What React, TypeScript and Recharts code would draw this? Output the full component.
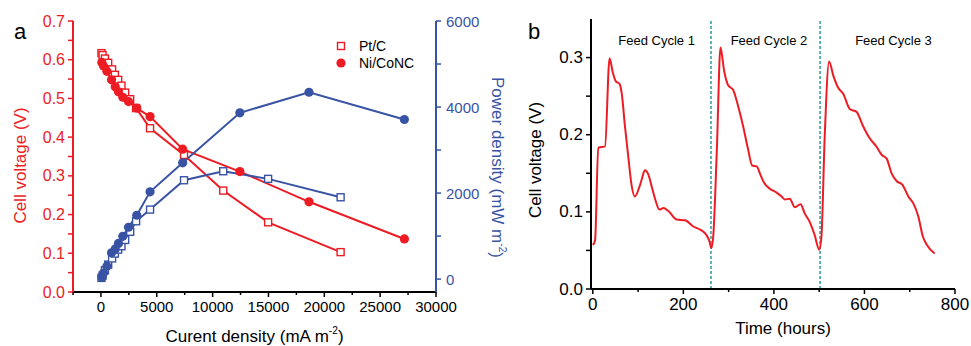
import React from 'react';
import { LineChart, Line, XAxis, YAxis, Label, ReferenceLine, Legend } from 'recharts';

const RED = '#ED1C24';
const BLUE = '#3953A4';
const TEAL = '#2E9A9A';
const FONT = '"Liberation Sans", Arial, Helvetica, sans-serif';

// ---------- Panel a data ----------
const ptcCurrent = [50, 150, 360, 650, 1000, 1250, 1545, 1840, 2170, 2620, 3150, 4400, 7440, 10950, 14970, 21460];
const ptcVoltage = [0.617, 0.612, 0.603, 0.592, 0.575, 0.561, 0.548, 0.533, 0.515, 0.498, 0.475, 0.423, 0.354, 0.262, 0.18, 0.103];
const ptcPower = [28, 81, 205, 337, 480, 593, 686, 763, 910, 1100, 1344, 1616, 2298, 2507, 2330, 1902];

const nicCurrent = [80, 235, 535, 950, 1280, 1570, 1960, 2470, 3210, 4400, 7320, 12440, 18630, 27170];
const nicVoltage = [0.593, 0.584, 0.57, 0.548, 0.53, 0.517, 0.503, 0.492, 0.475, 0.453, 0.369, 0.311, 0.233, 0.137];
const nicPower = [50, 140, 300, 610, 700, 830, 995, 1205, 1484, 2028, 2702, 3865, 4344, 3710];

const voltageTicks = [0, 0.05, 0.1, 0.15, 0.2, 0.25, 0.3, 0.35, 0.4, 0.45, 0.5, 0.55, 0.6, 0.65, 0.7];
const voltageMajor = [0, 0.1, 0.2, 0.3, 0.4, 0.5, 0.6, 0.7];
const powerTicks = [0, 1000, 2000, 3000, 4000, 5000, 6000];
const powerMajor = [0, 2000, 4000, 6000];
const currentTicks = [-2500, 0, 2500, 5000, 7500, 10000, 12500, 15000, 17500, 20000, 22500, 25000, 27500, 30000];
const currentMajor = [0, 5000, 10000, 15000, 20000, 25000, 30000];

const legendItems = [
  { label: 'Pt/C', shape: 'square' },
  { label: 'Ni/CoNC', shape: 'circle' },
];

// ---------- Panel b data ----------
const timeHours = [0, 5, 12, 27, 37, 44, 51, 59, 64, 71, 79, 85, 93, 101, 108, 115, 123, 130, 138, 147, 156, 167, 185, 204, 222, 240, 251, 257, 262, 266, 274, 282, 290, 299, 310, 321, 332, 343, 352, 362, 369, 378, 391, 406, 417, 424, 435, 446, 459, 468, 479, 490, 500, 505, 512, 522, 531, 542, 553, 568, 582, 597, 612, 626, 638, 649, 660, 671, 684, 697, 708, 719, 729, 738, 755];
const cellVoltage = [0.057, 0.063, 0.183, 0.185, 0.299, 0.281, 0.269, 0.266, 0.253, 0.211, 0.168, 0.137, 0.12, 0.129, 0.142, 0.154, 0.148, 0.133, 0.116, 0.103, 0.105, 0.101, 0.09, 0.089, 0.081, 0.076, 0.07, 0.063, 0.053, 0.068, 0.181, 0.313, 0.283, 0.264, 0.258, 0.237, 0.211, 0.181, 0.16, 0.159, 0.15, 0.138, 0.13, 0.125, 0.12, 0.116, 0.117, 0.106, 0.11, 0.098, 0.087, 0.07, 0.051, 0.068, 0.194, 0.295, 0.277, 0.261, 0.253, 0.233, 0.23, 0.211, 0.195, 0.185, 0.174, 0.169, 0.15, 0.14, 0.135, 0.12, 0.111, 0.094, 0.068, 0.057, 0.046];
const feedBoundaries = [261, 502];
const cycleLabels = ['Feed Cycle 1', 'Feed Cycle 2', 'Feed Cycle 3'];
const cycleCenters = [141, 389, 664];
const bVoltTicks = [0, 0.05, 0.1, 0.15, 0.2, 0.25, 0.3];
const bVoltMajor = [0, 0.1, 0.2, 0.3];
const bTimeTicks = [0, 100, 200, 300, 400, 500, 600, 700, 800];
const bTimeMajor = [0, 200, 400, 600, 800];

const ptcV = ptcCurrent.map((x, i) => ({ x, y: ptcVoltage[i] }));
const ptcP = ptcCurrent.map((x, i) => ({ x, y: ptcPower[i] }));
const nicV = nicCurrent.map((x, i) => ({ x, y: nicVoltage[i] }));
const nicP = nicCurrent.map((x, i) => ({ x, y: nicPower[i] }));
const bData = timeHours.map((t, i) => ({ t, v: cellVoltage[i] }));

const isIn = (arr: number[], v: number) => arr.some((m) => Math.abs(m - v) < 1e-9);

type TickOpts = {
  orient: 'left' | 'right' | 'bottom';
  major: number[];
  fmt: (v: number) => string;
  color: string;
  textColor?: string;
  fontSize: number;
  margin: number;
  len?: number;
  minorLen?: number;
  gap?: number;
};

const makeTick = (o: TickOpts) => (props: any) => {
  const { x, y, payload } = props;
  const v = payload.value;
  const major = isIn(o.major, v);
  const L = major ? (o.len ?? 5) : (o.minorLen ?? 3);
  const gap = o.gap ?? 3;
  const tc = o.textColor ?? o.color;
  if (o.orient === 'left') {
    const ax = x + o.margin;
    return (
      <g>
        <line x1={ax - L} x2={ax} y1={y} y2={y} stroke={o.color} strokeWidth={1.5} />
        {major && (
          <text x={ax - L - gap} y={y} textAnchor="end" dominantBaseline="central" fill={tc} fontSize={o.fontSize} fontFamily={FONT}>
            {o.fmt(v)}
          </text>
        )}
      </g>
    );
  }
  if (o.orient === 'right') {
    const ax = x - o.margin;
    return (
      <g>
        <line x1={ax} x2={ax + L} y1={y} y2={y} stroke={o.color} strokeWidth={1.5} />
        {major && (
          <text x={ax + L + gap} y={y} textAnchor="start" dominantBaseline="central" fill={tc} fontSize={o.fontSize} fontFamily={FONT}>
            {o.fmt(v)}
          </text>
        )}
      </g>
    );
  }
  const ay = y - o.margin;
  return (
    <g>
      <line x1={x} x2={x} y1={ay} y2={ay + L} stroke={o.color} strokeWidth={1.5} />
      {major && (
        <text x={x} y={ay + L + gap} textAnchor="middle" dominantBaseline="hanging" fill={tc} fontSize={o.fontSize} fontFamily={FONT}>
          {o.fmt(v)}
        </text>
      )}
    </g>
  );
};

const AxisLabel = (p: any) => {
  const { viewBox, text, sup, color, dx, dy, angle, fontSize, vertical } = p;
  const { x, y, width, height } = viewBox || {};
  let cx: number;
  let cy: number;
  if (vertical) {
    cx = x + dx;
    cy = y + height / 2 + dy;
  } else {
    cx = x + width / 2 + dx;
    cy = y + dy;
  }
  return (
    <text
      x={cx}
      y={cy}
      transform={angle ? `rotate(${angle} ${cx} ${cy})` : undefined}
      textAnchor="middle"
      dominantBaseline="central"
      fill={color}
      fontSize={fontSize}
      fontFamily={FONT}
    >
      {text}
      {sup && (
        <>
          <tspan dy={-6} fontSize={fontSize * 0.6}>{sup}</tspan>
          <tspan dy={6}>)</tspan>
        </>
      )}
    </text>
  );
};

const squareDot = (color: string) => (props: any) => {
  const { cx, cy, index } = props;
  if (cx == null || cy == null) return <g key={`s${index}`} />;
  return <rect key={`s${index}`} x={cx - 3.5} y={cy - 3.5} width={7} height={7} fill="#fff" stroke={color} strokeWidth={1.4} />;
};
const circleDot = (color: string) => (props: any) => {
  const { cx, cy, index } = props;
  if (cx == null || cy == null) return <g key={`c${index}`} />;
  return <circle key={`c${index}`} cx={cx} cy={cy} r={4.6} fill={color} stroke="none" />;
};

const renderLegend = () => (
  <div style={{ fontFamily: FONT, fontSize: 14, color: '#000' }}>
    {legendItems.map((it) => (
      <div key={it.label} style={{ display: 'flex', alignItems: 'center', height: 17 }}>
        <svg width={16} height={16} style={{ marginRight: 10 }}>
          {it.shape === 'square' ? (
            <rect x={4.5} y={4.5} width={7} height={7} fill="#fff" stroke={RED} strokeWidth={1.4} />
          ) : (
            <circle cx={8} cy={8} r={4.6} fill={RED} />
          )}
        </svg>
        <span>{it.label}</span>
      </div>
    ))}
  </div>
);

const PanelA = () => (
  <LineChart width={520} height={346} margin={{ top: 21, right: 0, bottom: 0, left: 5 }}>
    <XAxis
      xAxisId="b"
      dataKey="x"
      type="number"
      domain={[-2500, 30000]}
      ticks={currentTicks}
      interval={0}
      allowDataOverflow
      height={54}
      tickSize={0}
      tickMargin={0}
      axisLine={{ stroke: '#000', strokeWidth: 2 }}
      tickLine={false}
      tick={makeTick({ orient: 'bottom', major: currentMajor, fmt: (v) => String(v), color: '#000', fontSize: 15, margin: 0, gap: 4 })}
    >
      <Label content={(p: any) => <AxisLabel {...p} text="Curent density (mA m" sup="-2" color="#000" dx={0} dy={44} fontSize={17} />} />
    </XAxis>
    <XAxis
      xAxisId="t"
      orientation="top"
      dataKey="x"
      type="number"
      domain={[-2500, 30000]}
      height={0}
      tick={false}
      tickLine={false}
      axisLine={{ stroke: '#000', strokeWidth: 2 }}
    />
    <YAxis
      yAxisId="v"
      type="number"
      domain={[0, 0.7]}
      ticks={voltageTicks}
      interval={0}
      width={68}
      tickSize={0}
      tickMargin={0}
      tickLine={false}
      axisLine={{ stroke: RED, strokeWidth: 2 }}
      tick={makeTick({ orient: 'left', major: voltageMajor, fmt: (v) => v.toFixed(1), color: RED, fontSize: 16, margin: 0, len: 5, minorLen: 5, gap: 3 })}
    >
      <Label content={(p: any) => <AxisLabel {...p} vertical text="Cell voltage (V)" color={RED} dx={15} dy={9} angle={-90} fontSize={17} />} />
    </YAxis>
    <YAxis
      yAxisId="p"
      orientation="right"
      type="number"
      domain={[-300, 6000]}
      ticks={powerTicks}
      interval={0}
      width={84}
      tickSize={0}
      tickMargin={0}
      tickLine={false}
      axisLine={{ stroke: BLUE, strokeWidth: 2 }}
      tick={makeTick({ orient: 'right', major: powerMajor, fmt: (v) => String(v), color: BLUE, fontSize: 15, margin: 0, len: 5, minorLen: 5, gap: 5 })}
    >
      <Label content={(p: any) => <AxisLabel {...p} vertical text="Power density (mW m" sup="-2" color={BLUE} dx={61} dy={11} angle={90} fontSize={17} />} />
    </YAxis>
    <Legend
      layout="vertical"
      align="center"
      verticalAlign="middle"
      content={renderLegend}
      wrapperStyle={{ position: 'absolute', left: 333, top: 37, width: 'auto', height: 'auto' }}
    />
    <Line xAxisId="b" yAxisId="v" data={ptcV} dataKey="y" name="Pt/C" type="linear" stroke={RED} strokeWidth={2} dot={squareDot(RED)} isAnimationActive={false} />
    <Line xAxisId="b" yAxisId="v" data={nicV} dataKey="y" name="Ni/CoNC" type="linear" stroke={RED} strokeWidth={2} dot={circleDot(RED)} isAnimationActive={false} />
    <Line xAxisId="b" yAxisId="p" data={ptcP} dataKey="y" name="Pt/C power" type="linear" stroke={BLUE} strokeWidth={2} dot={squareDot(BLUE)} isAnimationActive={false} />
    <Line xAxisId="b" yAxisId="p" data={nicP} dataKey="y" name="Ni/CoNC power" type="linear" stroke={BLUE} strokeWidth={2} dot={circleDot(BLUE)} isAnimationActive={false} />
  </LineChart>
);

const PanelB = () => (
  <LineChart width={451} height={346} data={bData} margin={{ top: 19, right: 16, bottom: 0, left: 0 }}>
    <XAxis
      xAxisId="b"
      dataKey="t"
      type="number"
      domain={[-4, 800]}
      ticks={bTimeTicks}
      interval={0}
      height={57}
      tickSize={0}
      tickMargin={0}
      tickLine={false}
      axisLine={{ stroke: '#000', strokeWidth: 2 }}
      tick={makeTick({ orient: 'bottom', major: bTimeMajor, fmt: (v) => String(v), color: '#000', fontSize: 17, margin: 0, gap: 4 })}
    >
      <Label content={(p: any) => <AxisLabel {...p} text="Time (hours)" color="#000" dx={10} dy={39} fontSize={17} />} />
    </XAxis>
    <XAxis xAxisId="t" orientation="top" dataKey="t" type="number" domain={[-4, 800]} height={0} tick={false} tickLine={false} axisLine={{ stroke: '#000', strokeWidth: 2 }} />
    <YAxis
      yAxisId="l"
      type="number"
      domain={[0, 0.35]}
      ticks={bVoltTicks}
      interval={0}
      width={71}
      tickSize={0}
      tickMargin={0}
      tickLine={false}
      axisLine={{ stroke: '#000', strokeWidth: 2 }}
      tick={makeTick({ orient: 'left', major: bVoltMajor, fmt: (v) => v.toFixed(1), color: '#000', fontSize: 17, margin: 0, len: 5, minorLen: 5, gap: 3 })}
    >
      <Label content={(p: any) => <AxisLabel {...p} vertical text="Cell voltage (V)" color="#000" dx={15} dy={6} angle={-90} fontSize={17} />} />
    </YAxis>
    <YAxis yAxisId="r" orientation="right" type="number" domain={[0, 0.35]} width={0} tick={false} tickLine={false} axisLine={{ stroke: '#000', strokeWidth: 2 }} />
    {feedBoundaries.map((b) => (
      <ReferenceLine key={b} xAxisId="b" yAxisId="l" x={b} stroke={TEAL} strokeWidth={1.5} strokeDasharray="3 2" />
    ))}
    {cycleCenters.map((c, i) => (
      <ReferenceLine
        key={`c${i}`}
        xAxisId="b"
        yAxisId="l"
        x={c}
        stroke="none"
        label={{ value: cycleLabels[i], position: 'insideTop', offset: 17, fill: '#000', fontSize: 13, fontFamily: FONT }}
      />
    ))}
    <Line xAxisId="b" yAxisId="l" dataKey="v" type="monotone" stroke={RED} strokeWidth={2} dot={false} isAnimationActive={false} />
  </LineChart>
);

export default function App() {
  return (
    <div style={{ position: 'absolute', left: 0, top: 0, width: 971, height: 346, background: '#fff', fontFamily: FONT }}>
      <div style={{ position: 'absolute', left: 0, top: 0 }}>
        <PanelA />
      </div>
      <div style={{ position: 'absolute', left: 520, top: 0 }}>
        <PanelB />
      </div>
      <div style={{ position: 'absolute', left: 14, top: 20, fontSize: 22, lineHeight: '24px', color: '#000' }}>a</div>
      <div style={{ position: 'absolute', left: 528, top: 20, fontSize: 22, lineHeight: '24px', color: '#000' }}>b</div>
    </div>
  );
}
